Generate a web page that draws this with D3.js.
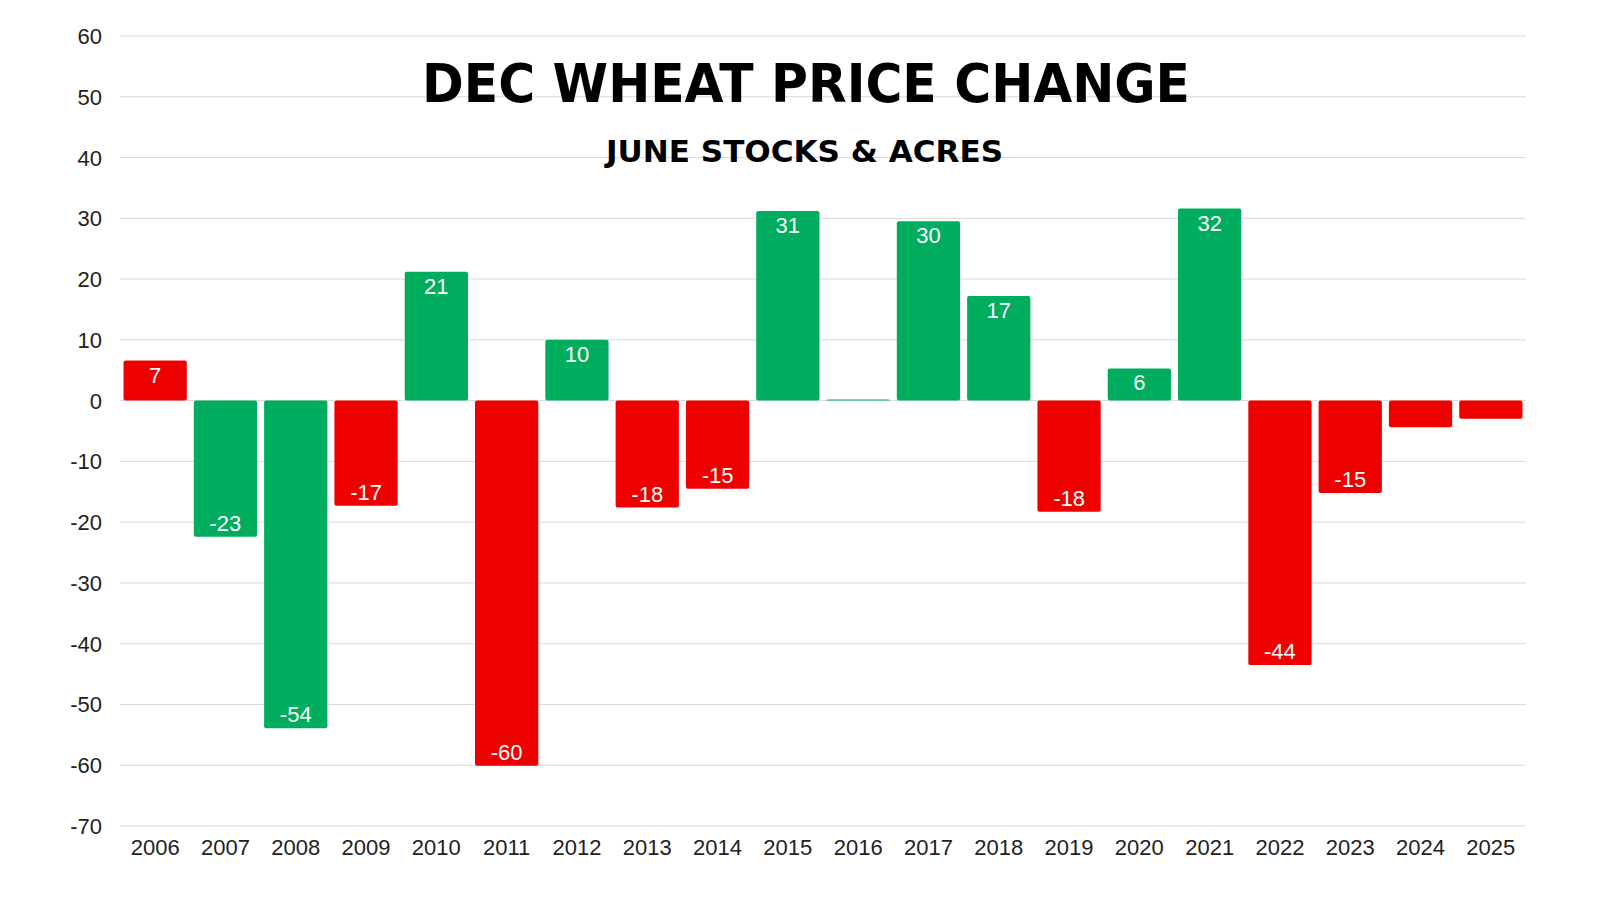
<!DOCTYPE html>
<html><head><meta charset="utf-8">
<script src="https://cdn.jsdelivr.net/npm/d3@7"></script>
<style>body{margin:0;background:#fff}</style></head>
<body><svg id="c" width="1600" height="900"></svg>
<script>
const years=["2006","2007","2008","2009","2010","2011","2012","2013","2014","2015","2016","2017","2018","2019","2020","2021","2022","2023","2024","2025"];
const values=[6.6,-22.4,-53.9,-17.3,21.2,-60.1,10,-17.6,-14.5,31.2,0.2,29.5,17.2,-18.3,5.3,31.6,-43.5,-15.2,-4.4,-3];
const labels=["7","-23","-54","-17","21","-60","10","-18","-15","31","","30","17","-18","6","32","-44","-15","",""];
const colorKeys=["r","g","g","r","g","r","g","r","r","g","g","g","g","r","g","g","r","r","r","r"];
const yTicks=[60,50,40,30,20,10,0,-10,-20,-30,-40,-50,-60,-70];
const palette={r:"#EE0000",g:"#00AD5F"};
const svg=d3.select("#c");
const x=d3.scaleBand().domain(years).range([120,1526]).paddingInner(0.1).paddingOuter(0.05);
const y=d3.scaleLinear().domain([-70,60]).range([826,36]);
const font="'Liberation Sans',Arial,sans-serif";
svg.append("g").selectAll("line").data(yTicks).join("line")
 .attr("x1",120).attr("x2",1526).attr("y1",d=>y(d)).attr("y2",d=>y(d))
 .attr("stroke","#d9d9d9").attr("stroke-width",1);
svg.append("g").selectAll("text").data(yTicks).join("text")
 .attr("x",102).attr("y",d=>y(d)+8).attr("text-anchor","end")
 .attr("font-family",font).attr("font-size",22).attr("fill","#222").text(d=>d);
svg.append("g").selectAll("text").data(years).join("text")
 .attr("x",d=>x(d)+x.bandwidth()/2).attr("y",855).attr("text-anchor","middle")
 .attr("font-family",font).attr("font-size",22).attr("fill","#222").text(d=>d);
svg.append("g").selectAll("rect").data(values).join("rect")
 .attr("x",(d,i)=>x(years[i])).attr("width",x.bandwidth())
 .attr("y",d=>y(Math.max(0,d))).attr("height",d=>Math.max(1,Math.abs(y(d)-y(0))))
 .attr("rx",2).attr("fill",(d,i)=>palette[colorKeys[i]]);
svg.append("g").selectAll("text").data(values).join("text")
 .attr("x",(d,i)=>x(years[i])+x.bandwidth()/2)
 .attr("y",d=>d>=0?y(d)+22:y(d)-6).attr("text-anchor","middle")
 .attr("font-family",font).attr("font-size",22).attr("fill","#fff").text((d,i)=>labels[i]);
svg.append("text").attr("x",422).attr("y",102)
 .attr("font-family","'DejaVu Sans Condensed','DejaVu Sans',sans-serif").attr("font-weight","bold")
 .attr("font-size",54).attr("textLength",768).attr("lengthAdjust","spacingAndGlyphs").attr("fill","#000")
 .text("DEC WHEAT PRICE CHANGE");
svg.append("text").attr("x",606).attr("y",162)
 .attr("font-family","'DejaVu Sans Condensed','DejaVu Sans',sans-serif").attr("font-weight","bold")
 .attr("font-size",30).attr("textLength",397).attr("lengthAdjust","spacingAndGlyphs").attr("fill","#000")
 .text("JUNE STOCKS & ACRES");
</script></body></html>
